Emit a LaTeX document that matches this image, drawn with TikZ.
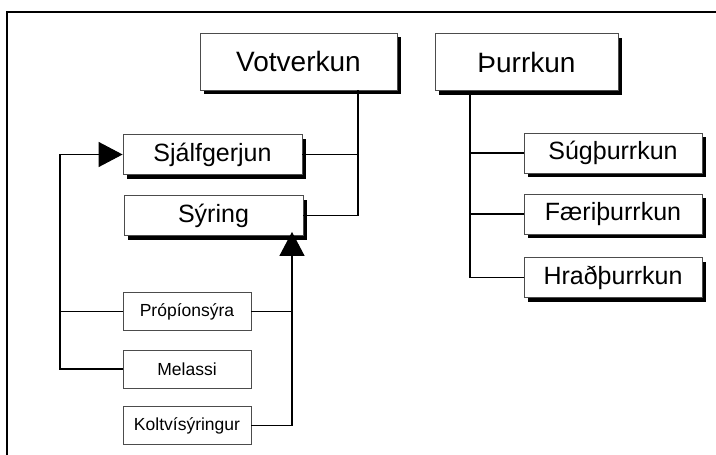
\documentclass[tikz,border=0pt]{standalone}
\usepackage{fontspec}
\setmainfont{Liberation Sans}
\usetikzlibrary{shadows,arrows.meta}
\tikzset{
  boxbase/.style={draw=black!70,line width=0.8pt,fill=white,inner sep=0pt,
    drop shadow={shadow xshift=4pt,shadow yshift=-4pt,fill=black,opacity=1}},
  bigbox/.style={boxbase,minimum width=190pt,minimum height=57pt,
    font=\fontsize{28}{30}\selectfont},
  midbox/.style={boxbase,minimum width=179pt,minimum height=40pt,
    font=\fontsize{25}{27}\selectfont},
  smallbox/.style={draw=black!70,line width=0.8pt,fill=white,inner sep=0pt,
    minimum width=128pt,minimum height=38pt,font=\fontsize{17.5}{19}\selectfont},
  link/.style={line width=1.1pt},
  bigtip/.style={-{Triangle[length=24pt,width=25pt]}}
}
\begin{document}
\begin{tikzpicture}[x=1pt,y=-1pt]
\useasboundingbox (0,0) rectangle (716,455);
\draw[line width=2pt] (716,12) -- (7,12) -- (7,455);

\node[bigbox,minimum width=197pt] (votv) at (298.5,61.5) {Votverkun};
\node[bigbox,minimum width=183pt] (thurr) at (526.5,62) {Þurrkun};

\node[midbox] (sjalf) at (212.5,154.5) {Sjálfgerjun};
\node[midbox] (syring) at (213.5,215.5) {Sýring};

\node[midbox,minimum width=178pt] (sug) at (613,153) {Súgþurrkun};
\node[midbox,minimum width=178pt] (faeri) at (613,214) {Færiþurrkun};
\node[midbox,minimum width=178pt] (hrad) at (613,277.5) {Hraðþurrkun};

\node[smallbox] (propion) at (187,311.5) {Própíonsýra};
\node[smallbox] (melassi) at (187,369) {Melassi};
\node[smallbox] (kolt) at (187,425.5) {Koltvísýringur};

\coordinate (vv) at (358,0);
\coordinate (tt) at (470,0);
\coordinate (fb) at (60,0);
\coordinate (sy) at (292,0);

\draw[link] (sjalf.east) -| (votv.south -| vv);
\draw[link] (syring.east) -| (votv.south -| vv);

\draw[link] (thurr.south -| tt) |- (hrad.west);
\draw[link] (tt |- sug.west) -- (sug.west);
\draw[link] (tt |- faeri.west) -- (faeri.west);

\draw[link,bigtip] (melassi.west) -| (fb |- sjalf.west) -- (sjalf.west);
\draw[link] (propion.west) -- (fb |- propion.west);

\draw[link,bigtip,shorten >=-4pt] (kolt.east) -| (sy |- syring.south);
\draw[link] (propion.east) -- (sy |- propion.east);
\end{tikzpicture}
\end{document}
